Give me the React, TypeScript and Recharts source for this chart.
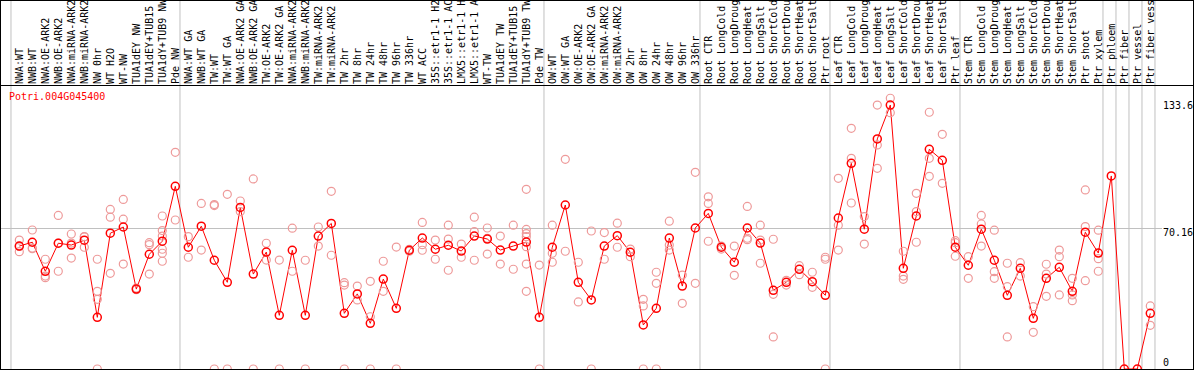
import React from 'react';
import { ComposedChart, Line, Scatter, XAxis, YAxis, ReferenceLine } from 'recharts';

const geneId = 'Potri.004G045400';

const samples = [
    'NWA:WT', 'NWB:WT', 'NWA:OE-ARK2', 'NWB:OE-ARK2', 'NWA:miRNA-ARK2', 'NWB:miRNA-ARK2', 'NW 0hr', 'WT H2O', 'WT-NW',
    'TUA1dEY NW', 'TUA1dEY+TUB15 NW', 'TUA1dY+TUB9 NW', 'Pde NW',
    'NWA:WT GA', 'NWB:WT GA', 'TW:WT', 'TW:WT GA', 'NWA:OE-ARK2 GA', 'NWB:OE-ARK2 GA', 'TW:OE-ARK2', 'TW:OE-ARK2 GA',
    'NWA:miRNA-ARK2', 'NWB:miRNA-ARK2', 'TW:miRNA-ARK2', 'TW:miRNA-ARK2', 'TW 2hr', 'TW 8hr', 'TW 24hr', 'TW 48hr',
    'TW 96hr', 'TW 336hr', 'WT ACC', '35S::etr1-1 H2O', '35S::etr1-1 ACC', 'LMX5::etr1-1 H2O', 'LMX5::etr1-1 ACC',
    'WT-TW', 'TUA1dEY TW', 'TUA1dEY+TUB15 TW', 'TUA1dY+TUB9 TW', 'Pde TW',
    'OW:WT', 'OW:WT GA', 'OW:OE-ARK2', 'OW:OE-ARK2 GA', 'OW:miRNA-ARK2', 'OW:miRNA-ARK2', 'OW 2hr', 'OW 8hr',
    'OW 24hr', 'OW 48hr', 'OW 96hr', 'OW 336hr',
    'Root CTR', 'Root LongCold', 'Root LongDrought', 'Root LongHeat', 'Root LongSalt', 'Root ShortCold',
    'Root ShortDrought', 'Root ShortHeat', 'Root ShortSalt', 'Ptr root',
    'Leaf CTR', 'Leaf LongCold', 'Leaf LongDrought', 'Leaf LongHeat', 'Leaf LongSalt', 'Leaf ShortCold',
    'Leaf ShortDrought', 'Leaf ShortHeat', 'Leaf ShortSalt', 'Ptr leaf',
    'Stem CTR', 'Stem LongCold', 'Stem LongDrought', 'Stem LongHeat', 'Stem LongSalt', 'Stem ShortCold',
    'Stem ShortDrought', 'Stem ShortHeat', 'Stem ShortSalt', 'Ptr shoot', 'Ptr xylem',
    'Ptr phloem', 'Ptr fiber', 'Ptr vessel', 'Ptr fiber vessel',
];

const means = [
    61.4, 63.3, 48.8, 62.8, 61.9, 64.3, 25.8, 67.8, 70.9, 39.9,
    57.3, 63.8, 91.2, 60.8, 71.3, 54.3, 43.3, 80.7, 47.4, 58.4,
    26.8, 59.3, 26.8, 66.4, 72.7, 27.8, 37.5, 22.8, 44.9, 30.3,
    59.3, 65.4, 59.8, 61.8, 58.9, 66.4, 64.9, 59.4, 61.4, 63.4,
    25.8, 60.8, 81.9, 43.3, 34.5, 61.4, 66.6, 58.3, 22.0, 30.3,
    65.4, 41.4, 70.4, 77.7, 60.8, 53.3, 70.4, 62.9, 39.3, 43.3,
    49.8, 43.6, 36.8, 75.4, 102.7, 69.8, 114.9, 131.8, 50.3, 76.4,
    109.7, 104.2, 60.8, 51.8, 69.8, 54.3, 36.8, 50.3, 25.3, 45.3,
    50.8, 38.8, 68.3, 57.9, 96.4, 0, 0, 27.8,
];

// individual replicate values per sample
const replicates: number[][] = [
    [64.4, 58.6, 61.2], [69.4, 60.1, 60.4], [54.8, 46.4, 45.6], [76.7, 48.8, 62.9], [67.4, 55.4, 62.9],
    [66.1, 60.8, 66.0], [54.8, 38.8, 34.8, 0], [79.7, 75.8, 47.8], [84.7, 74.8, 52.4], [40.4, 39.6],
    [63.1, 62.1, 47.4], [76.4, 69.1, 66.4, 59.8, 57.8, 53.8], [108.2, 74.4], [66.1, 55.8], [82.7, 59.4],
    [82.1, 81.6, 0], [87.2, 0], [83.9, 78.6], [94.9, 0], [62.8, 54.4],
    [54.4, 0], [70.3, 48.8], [54.3, 0], [70.9, 61.4], [88.7, 56.8],
    [43.1, 41.9, 0], [41.4, 34.5], [43.8, 26.1, 0], [53.8, 38.8], [60.9, 0],
    [59.8, 58.8], [73.2, 62.1, 59.3], [64.4, 54.8], [71.8, 64.9, 49.3], [62.4, 55.8],
    [75.8, 68.6, 54.3], [70.4, 65.3, 57.4], [66.4, 52.4], [71.8, 49.8], [89.7, 69.7, 67.6, 66.1, 61.1, 52.4, 38.8],
    [51.9, 0], [71.8, 57.8, 53.3], [104.7, 58.8], [53.3, 33.5], [68.9, 0],
    [68.1, 54.8], [72.8, 60.8], [59.9, 56.1], [34.8, 31.5, 0], [48.3, 42.8, 0],
    [73.8, 61.9, 59.4], [46.9, 32.8], [98.2, 42.8], [86.0, 82.7, 63.8], [61.4, 59.9],
    [61.4, 46.8], [81.2, 65.3, 64.6], [71.8, 64.4, 52.8], [64.8, 37.3, 16.0], [44.3, 41.9],
    [51.6, 47.1], [48.3, 40.8], [55.8, 54.8, 0], [95.2, 71.8, 59.4], [120.2, 105.2, 82.9],
    [76.1, 62.4], [131.8, 111.9, 100.2], [135.2, 128.0], [58.8, 46.4, 44.8], [87.7, 78.6, 63.3],
    [128.2, 105.2, 96.2], [117.2, 92.7], [64.1, 63.1, 56.3], [56.1, 45.3], [76.7, 72.4, 61.4],
    [69.3, 48.6, 45.3], [52.8, 41.1, 16.0], [53.1, 46.4], [31.1, 18.3], [52.3, 47.4, 36.3],
    [59.4, 56.1, 37.0], [45.3, 37.0, 34.1], [89.4, 71.1, 44.1], [69.3, 55.1, 48.8], [],
    [], [], [31.5, 21.8],
];

// index of the first sample of each group (last entry closes the final group)
const groupStarts = [0, 13, 41, 53, 63, 73, 84, 85, 86, 87, 88];
const yTicks = [0, 70.16, 133.6];

const MONO = '"DejaVu Sans Mono", "Liberation Mono", monospace';

const lineData = means.map((m, i) => ({ x: i, mean: m }));
const repData = replicates.flatMap((r, i) => r.map((v) => ({ x: i, y: v })));
const sampleIdx = samples.map((_, i) => i);

const SampleTick = (props: any) => {
    const { x, payload } = props;
    return (
        <text transform={`translate(${x + 3.5},84) rotate(-90)`} fontFamily={MONO} fontSize={10} fill="#000">
            {samples[payload.value]}
        </text>
    );
};

const ValueTick = (props: any) => {
    const { x, y, payload } = props;
    return (
        <text x={x + 1} y={Math.min(y + 8, 366)} fontFamily={MONO} fontSize={10} fill="#000" textAnchor="start">
            {String(payload.value)}
        </text>
    );
};

const RepDot = (props: any) => (
    <circle cx={props.cx} cy={props.cy} r={4} fill="none" stroke="#ee9a9a" strokeWidth={1.2} />
);

const MeanDot = (props: any) => (
    <circle key={props.index} cx={props.cx} cy={props.cy} r={4} fill="none" stroke="#ff0000" strokeWidth={1.5} />
);

export default function App() {
    return (
        <div style={{ position: 'absolute', left: 0, top: 0, width: 1194, height: 370, background: '#fff' }}>
            <ComposedChart width={1194} height={370} data={lineData} margin={{ top: 0, right: 0, bottom: 1, left: 1 }}>
                <XAxis
                    dataKey="x"
                    type="number"
                    orientation="top"
                    height={1}
                    domain={[-1.4077, 87.9]}
                    allowDataOverflow
                    ticks={sampleIdx}
                    interval={0}
                    tick={SampleTick}
                    tickLine={false}
                    axisLine={false}
                />
                <YAxis
                    type="number"
                    orientation="right"
                    width={32}
                    domain={[0, 183.76]}
                    allowDataOverflow
                    ticks={yTicks}
                    interval={0}
                    tick={<ValueTick />}
                    tickSize={0}
                    tickMargin={0}
                    tickLine={false}
                    axisLine={false}
                />
                <ReferenceLine y={70.16} stroke="#c0c0c0" strokeWidth={1} />
                {groupStarts.map((g) => (
                    <ReferenceLine key={g} x={g - 0.64} stroke="#c0c0c0" strokeWidth={1} />
                ))}
                <Scatter data={repData} dataKey="y" shape={RepDot} isAnimationActive={false} />
                <Line
                    type="linear"
                    dataKey="mean"
                    stroke="#ff0000"
                    strokeWidth={1}
                    dot={MeanDot}
                    activeDot={false}
                    isAnimationActive={false}
                />
            </ComposedChart>
            <div style={{ position: 'absolute', left: 9, top: 92, fontFamily: MONO, fontSize: 10, lineHeight: '10px', color: '#ff0000' }}>
                {geneId}
            </div>
            <div style={{ position: 'absolute', left: 0, top: 85, width: 1194, height: 1, background: '#000' }} />
            <div style={{ position: 'absolute', left: 0, top: 0, width: 1194, height: 370, border: '1px solid #000', boxSizing: 'border-box', pointerEvents: 'none' }} />
        </div>
    );
}
